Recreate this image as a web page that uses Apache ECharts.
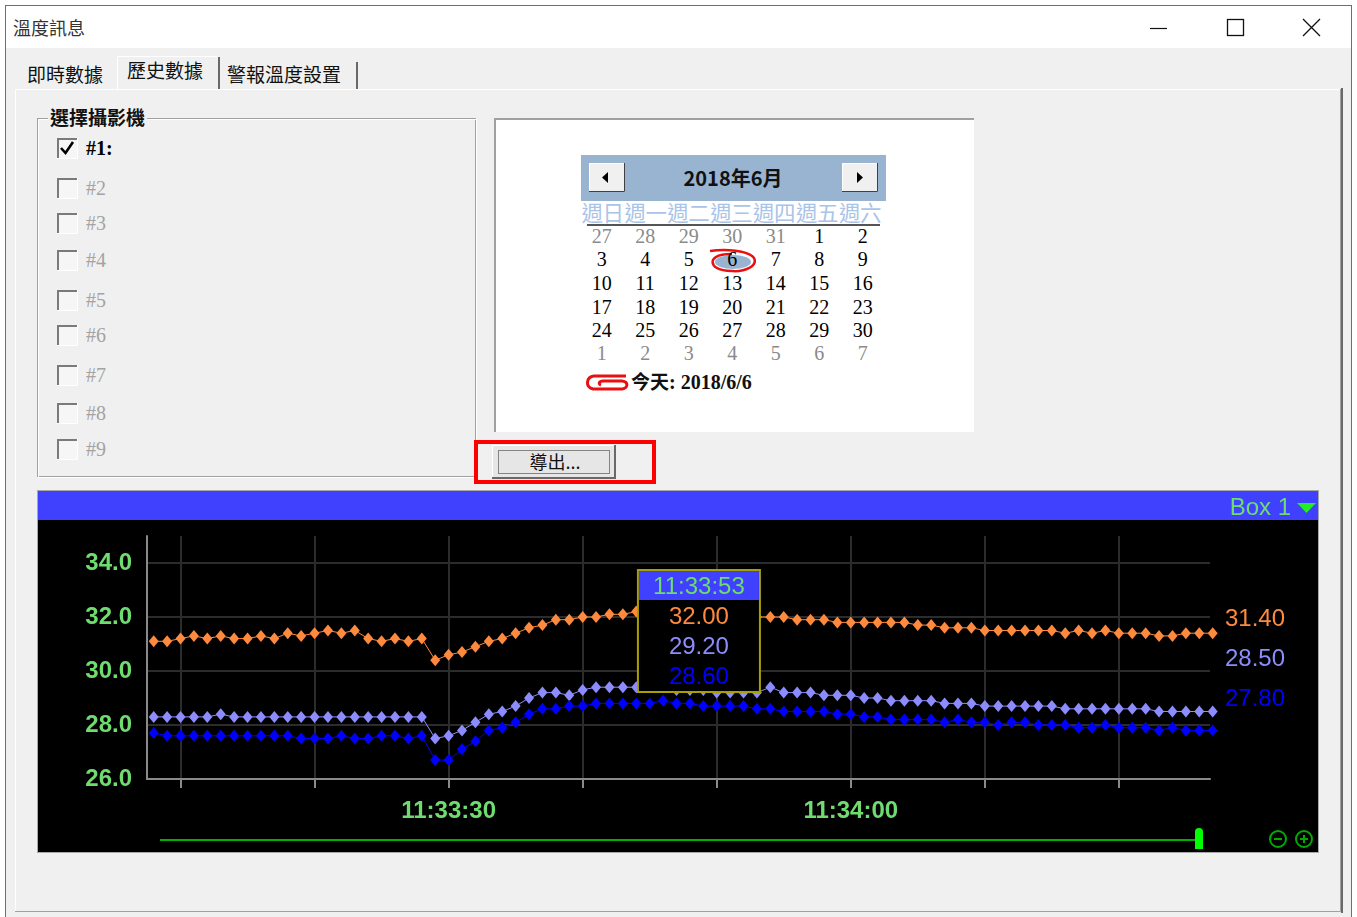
<!DOCTYPE html>
<html>
<head>
<meta charset="utf-8">
<title>溫度訊息</title>
<script src="https://cdn.jsdelivr.net/npm/echarts@6.0.0/dist/echarts.min.js"></script>
<style>
  html, body { margin: 0; padding: 0; }
  body { width: 1357px; height: 917px; position: relative; overflow: hidden; background: #fff;
         font-family: "Noto Sans CJK TC", "Noto Sans", sans-serif; color: #111; }
  .a { position: absolute; white-space: nowrap; }
  .cjk { font-size: 19px; line-height: 24px; height: 24px; }
  .ser { font-family: "Liberation Serif", "DejaVu Serif", serif; font-size: 20px; line-height: 24px; height: 24px; }
  .cell { width: 40px; text-align: center; }
  #frame { position: absolute; left: 0; top: 0; }
  #main { position: absolute; left: 38px; top: 491px; width: 1280px; height: 361px; }
</style>
</head>
<body>
<svg id="frame" width="1357" height="917">
  <!-- window -->
  <rect x="5.5" y="5.5" width="1346" height="920" fill="#f0f0f0" stroke="#2a7fd4"/>
  <rect x="6" y="6" width="1345" height="42" fill="#fff"/>
  <line x1="1150" y1="28.5" x2="1167" y2="28.5" stroke="#111" stroke-width="1.2"/>
  <rect x="1227.5" y="19.5" width="16" height="16" fill="none" stroke="#111" stroke-width="1.3"/>
  <path d="M1303 19 L1320 36 M1320 19 L1303 36" stroke="#111" stroke-width="1.3"/>
  <!-- tab panel -->
  <path d="M15.5 912 V89.5 H1340" stroke="#fff" fill="none"/>
  <path d="M1340.5 89 V911.5 H15" stroke="#a0a0a0" fill="none"/>
  <path d="M1342 88 V913" stroke="#696969" stroke-width="2"/>
  <path d="M117.5 89 V56.5 H218" stroke="#fff" fill="none"/>
  <path d="M219 57 V89" stroke="#696969" stroke-width="2"/>
  <path d="M357 62 V89" stroke="#696969" stroke-width="2"/>
  <!-- group box -->
  <rect x="37.5" y="118.5" width="438" height="358" fill="none" stroke="#a0a0a0"/>
  <rect x="38.5" y="119.5" width="438" height="358" fill="none" stroke="#fff"/>
  <g id="boxes"></g>
  <!-- calendar -->
  <rect x="494" y="118" width="480" height="314" fill="#fff"/>
  <path d="M495 432 V119 H974" stroke="#a0a0a0" stroke-width="2" fill="none"/>
  <rect x="581" y="155" width="305" height="46" fill="#99b4d1"/>
  <rect x="589" y="163" width="36" height="29" fill="#f0f0f0"/>
  <path d="M589.5 191 V163.5 H624" stroke="#fff" fill="none"/>
  <path d="M589 191.5 H624.5 V163" stroke="#404040" fill="none"/>
  <polygon points="602,177.5 608,172 608,183" fill="#000"/>
  <rect x="842" y="163" width="36" height="29" fill="#f0f0f0"/>
  <path d="M842.5 191 V163.5 H877" stroke="#fff" fill="none"/>
  <path d="M842 191.5 H877.5 V163" stroke="#404040" fill="none"/>
  <polygon points="863,177.5 857,172 857,183" fill="#000"/>
  <line x1="587" y1="225" x2="880" y2="225" stroke="#555" stroke-width="2"/>
  <ellipse cx="733" cy="262" rx="18" ry="7" fill="#99b4d1"/>
  <path d="M710 251 C725 249 748 250 754 258 C758 266 745 272 732 271 C718 271 711 266 713 260 C715 256 722 254 732 254"
        stroke="#e81010" stroke-width="2.5" fill="none"/>
  <path d="M626 376 L594 376 C586 377 585 387 593 389 L622 389 C628 388 629 382 622 381 L603 381 C599 381 598 384 601 385"
        stroke="#e81010" stroke-width="3" fill="none"/>
  <!-- export button -->
  <rect x="492" y="445" width="124" height="34" fill="#e6e6e6"/>
  <path d="M492.5 478 V445.5 H615" stroke="#fff" fill="none"/>
  <path d="M492 478 H615 V445" stroke="#696969" stroke-width="2" fill="none"/>
  <rect x="498.5" y="450.5" width="111" height="23" fill="none" stroke="#222" stroke-dasharray="1,1"/>
  <rect x="476" y="442" width="178" height="40" fill="none" stroke="#ff0000" stroke-width="4"/>
  <!-- chart frame -->
  <rect x="37.5" y="490.5" width="1281" height="362" fill="#000" stroke="#a8a8a8"/>
</svg>

<div class="a cjk" style="left:13px;top:15px;font-size:18px;color:#333">溫度訊息</div>
<div class="a cjk" style="left:27px;top:62px">即時數據</div>
<div class="a cjk" style="left:127px;top:58px">歷史數據</div>
<div class="a cjk" style="left:227px;top:62px">警報溫度設置</div>
<div class="a cjk" style="left:48px;top:105px;padding:0 2px;background:#f0f0f0;font-weight:bold">選擇攝影機</div>
<div id="camLabels"></div>
<div class="a cjk" style="left:633px;top:166px;width:200px;text-align:center;font-weight:bold;font-size:20px">2018年6月</div>
<div id="calendar"></div>
<div class="a cjk" style="left:631px;top:369px;font-weight:bold"><span>今天</span><span class="ser" style="font-weight:bold">: 2018/6/6</span></div>
<div class="a cjk" style="left:494px;top:449px;width:122px;text-align:center;font-size:18px">導出...</div>

<div id="main"></div>

<script>
// ---- chart data ----
var times = [
  '11:33:08','11:33:09','11:33:10','11:33:11','11:33:12','11:33:13','11:33:14','11:33:15','11:33:16','11:33:17',
  '11:33:18','11:33:19','11:33:20','11:33:21','11:33:22','11:33:23','11:33:24','11:33:25','11:33:26','11:33:27',
  '11:33:28','11:33:29','11:33:30','11:33:31','11:33:32','11:33:33','11:33:34','11:33:35','11:33:36','11:33:37',
  '11:33:38','11:33:39','11:33:40','11:33:41','11:33:42','11:33:43','11:33:44','11:33:45','11:33:46','11:33:47',
  '11:33:48','11:33:49','11:33:50','11:33:51','11:33:52','11:33:53','11:33:54','11:33:55','11:33:56','11:33:57',
  '11:33:58','11:33:59','11:34:00','11:34:01','11:34:02','11:34:03','11:34:04','11:34:05','11:34:06','11:34:07',
  '11:34:08','11:34:09','11:34:10','11:34:11','11:34:12','11:34:13','11:34:14','11:34:15','11:34:16','11:34:17',
  '11:34:18','11:34:19','11:34:20','11:34:21','11:34:22','11:34:23','11:34:24','11:34:25','11:34:26','11:34:27'
];
var tempA = [
  31.1, 31.1, 31.2, 31.3, 31.2, 31.3, 31.2, 31.2, 31.3, 31.2,
  31.4, 31.3, 31.4, 31.5, 31.4, 31.5, 31.2, 31.1, 31.2, 31.1,
  31.2, 30.4, 30.6, 30.7, 30.9, 31.1, 31.2, 31.4, 31.6, 31.7,
  31.9, 31.9, 32.0, 32.0, 32.1, 32.1, 32.2, 32.1, 32.2, 32.1,
  32.1, 32.0, 32.1, 32.0, 32.0, 32.0, 32.0, 32.0, 31.9, 31.9,
  31.9, 31.8, 31.8, 31.8, 31.8, 31.8, 31.8, 31.7, 31.7, 31.6,
  31.6, 31.6, 31.5, 31.5, 31.5, 31.5, 31.5, 31.5, 31.4, 31.5,
  31.4, 31.5, 31.4, 31.4, 31.4, 31.3, 31.3, 31.4, 31.4, 31.4
];
var tempB = [
  28.3, 28.3, 28.3, 28.3, 28.3, 28.4, 28.3, 28.3, 28.3, 28.3,
  28.3, 28.3, 28.3, 28.3, 28.3, 28.3, 28.3, 28.3, 28.3, 28.3,
  28.3, 27.5, 27.6, 27.8, 28.1, 28.4, 28.5, 28.7, 29.0, 29.2,
  29.2, 29.1, 29.3, 29.4, 29.4, 29.4, 29.4, 29.4, 29.4, 29.3,
  29.3, 29.3, 29.2, 29.2, 29.2, 29.2, 29.4, 29.2, 29.2, 29.2,
  29.1, 29.1, 29.1, 29.0, 29.0, 28.9, 28.9, 28.9, 28.9, 28.8,
  28.8, 28.8, 28.7, 28.7, 28.7, 28.7, 28.7, 28.7, 28.6, 28.6,
  28.6, 28.6, 28.6, 28.6, 28.6, 28.5, 28.5, 28.5, 28.5, 28.5
];
var tempC = [
  27.7, 27.6, 27.6, 27.6, 27.6, 27.6, 27.6, 27.6, 27.6, 27.6,
  27.6, 27.5, 27.5, 27.5, 27.6, 27.5, 27.5, 27.6, 27.6, 27.5,
  27.6, 26.7, 26.7, 27.1, 27.4, 27.8, 27.9, 28.1, 28.4, 28.6,
  28.6, 28.7, 28.7, 28.8, 28.8, 28.8, 28.8, 28.8, 28.9, 28.8,
  28.8, 28.7, 28.7, 28.7, 28.7, 28.6, 28.6, 28.5, 28.5, 28.5,
  28.5, 28.4, 28.4, 28.3, 28.3, 28.2, 28.2, 28.2, 28.2, 28.1,
  28.2, 28.1, 28.1, 28.0, 28.1, 28.1, 28.0, 28.0, 28.0, 27.9,
  27.9, 28.0, 27.9, 27.9, 27.9, 27.8, 27.9, 27.8, 27.8, 27.8
];
var seriesNames = ['溫度1', '溫度2', '溫度3'];
var seriesColors = ['#ff8a3d', '#8c8cff', '#0000ff'];
var xTickTimes = ['11:33:10', '11:33:20', '11:33:30', '11:33:40', '11:33:50', '11:34:00', '11:34:10', '11:34:20'];
var xLabelTimes = ['11:33:30', '11:34:00'];
var yTicks = [26, 28, 30, 32, 34];
var hoverIndex = 45;

// ---- dialog chrome ----
var camNames = ['#1:', '#2', '#3', '#4', '#5', '#6', '#7', '#8', '#9'];
var camY = [148, 188, 223, 260, 300, 335, 375, 413, 449];
var boxSvg = '', camHtml = '';
camNames.forEach(function (n, i) {
  var cy = camY[i];
  boxSvg += '<rect x="57" y="' + (cy - 10) + '" width="20" height="20" fill="#f6f6f6"/>' +
    '<path d="M58 ' + (cy + 10) + ' V' + (cy - 9) + ' H77" stroke="#7a7a7a" stroke-width="2" fill="none"/>' +
    '<path d="M57 ' + (cy + 10.5) + ' H77.5 V' + (cy - 10) + '" stroke="#fff" fill="none"/>';
  if (i === 0) boxSvg += '<path d="M61 ' + cy + ' L65.5 ' + (cy + 5) + ' L73 ' + (cy - 6) + '" stroke="#000" stroke-width="2.6" fill="none"/>';
  camHtml += '<div class="a ser" style="left:86px;top:' + (cy - 12) + 'px;' +
    (i === 0 ? 'font-weight:bold;color:#000' : 'color:#a3a3a3') + '">' + n + '</div>';
});
document.getElementById('boxes').innerHTML = boxSvg;
document.getElementById('camLabels').innerHTML = camHtml;

var weekDays = ['週日', '週一', '週二', '週三', '週四', '週五', '週六'];
var calRows = [
  [27, 28, 29, 30, 31, 1, 2], [3, 4, 5, 6, 7, 8, 9], [10, 11, 12, 13, 14, 15, 16],
  [17, 18, 19, 20, 21, 22, 23], [24, 25, 26, 27, 28, 29, 30], [1, 2, 3, 4, 5, 6, 7]
];
var rowY = [236, 259, 283, 306.5, 330, 353];
var calHtml = '';
weekDays.forEach(function (d, c) {
  calHtml += '<div class="a cjk" style="left:' + (581 + c * 42.9) + 'px;top:200px;width:43px;text-align:center;font-size:21.5px;letter-spacing:-0.5px;color:#a9c4e8">' + d + '</div>';
});
calRows.forEach(function (row, r) {
  row.forEach(function (d, c) {
    var grey = (r === 0 && c < 5) || r === 5;
    calHtml += '<div class="a ser cell" style="left:' + (581.7 + c * 43.5) + 'px;top:' + (rowY[r] - 12) + 'px;color:' +
      (grey ? '#8a8a8a' : '#000') + '">' + d + '</div>';
  });
});
document.getElementById('calendar').innerHTML = calHtml;

// ---- chart ----
var BASE = 11 * 3600 + 33 * 60;
function toSec(t) {
  var p = t.split(':');
  return (+p[0]) * 3600 + (+p[1]) * 60 + (+p[2]) - BASE;
}
function secToTime(s) {
  var v = Math.round(s + BASE);
  var h = Math.floor(v / 3600), m = Math.floor(v / 60) % 60, ss = v % 60;
  return h + ':' + (m < 10 ? '0' : '') + m + ':' + (ss < 10 ? '0' : '') + ss;
}
var green = '#6edc6e';
var FONT = '"Liberation Sans", Arial, sans-serif';
var seriesData = [tempA, tempB, tempC];

var myChart = echarts.init(document.getElementById('main'));
myChart.setOption({
  backgroundColor: '#000',
  animation: false,
  grid: { left: 109, right: 108, top: 45, bottom: 73, outerBoundsMode: 'none' },
  xAxis: {
    type: 'value',
    min: 7.5,
    max: 86.8,
    axisLine: { lineStyle: { color: '#8a8a8a', width: 2 } },
    axisTick: { show: true, length: 9, customValues: xTickTimes.map(toSec), lineStyle: { color: '#8a8a8a', width: 2 } },
    axisLabel: {
      customValues: xLabelTimes.map(toSec),
      formatter: function (v) { return secToTime(v); },
      color: green, fontSize: 24, fontWeight: 'bold', fontFamily: FONT, margin: 20
    },
    splitLine: { show: true, lineStyle: { color: '#2c2c2c', width: 2 } }
  },
  yAxis: {
    type: 'value',
    min: 26,
    max: 35,
    axisLine: { show: true, lineStyle: { color: '#8a8a8a', width: 2 } },
    axisTick: { show: false, customValues: yTicks },
    axisLabel: {
      customValues: yTicks,
      formatter: function (v) { return v.toFixed(1); },
      color: green, fontSize: 24, fontWeight: 'bold', fontFamily: FONT, margin: 15
    },
    splitLine: { show: true, lineStyle: { color: '#2c2c2c', width: 2 } }
  },
  series: seriesData.map(function (arr, k) {
    return {
      name: seriesNames[k],
      type: 'line',
      clip: false,
      data: times.map(function (t, i) { return [toSec(t), arr[i]]; }),
      symbol: 'diamond',
      symbolSize: [10, 12],
      itemStyle: { color: seriesColors[k] },
      lineStyle: { color: seriesColors[k], width: 1 }
    };
  })
});

// hover box anchored to the hovered sample
var hx = myChart.convertToPixel({ gridIndex: 0 }, [toSec(times[hoverIndex]), tempA[hoverIndex]])[0];
var boxW = 122, boxR = hx + 3, boxL = boxR - boxW, boxT = 79;
var txt = function (text, x, y, color, align, z) {
  return {
    type: 'text', z: z || 100,
    style: { text: text, x: x, y: y, fill: color, font: '24px ' + FONT, textAlign: align || 'center', textVerticalAlign: 'middle' }
  };
};
var last = times.length - 1;
var elements = [
  { type: 'rect', shape: { x: 0, y: 0, width: 1280, height: 29 }, style: { fill: '#4040ff' }, z: 100 },
  txt('Box 1', 1253, 17, green, 'right'),
  { type: 'polygon', shape: { points: [[1259, 12], [1278, 12], [1268.5, 22]] }, style: { fill: '#22ee22' }, z: 100 },
  { type: 'rect', shape: { x: boxL, y: boxT, width: boxW, height: 122 }, style: { fill: '#000', stroke: '#a8a000', lineWidth: 2 }, z: 100 },
  { type: 'rect', shape: { x: boxL + 1, y: boxT + 1, width: boxW - 2, height: 29 }, style: { fill: '#4040ff' }, z: 101 },
  txt(times[hoverIndex], boxL + boxW / 2, boxT + 17, green, 'center', 102),
  { type: 'line', shape: { x1: 122, y1: 349, x2: 1159, y2: 349 }, style: { stroke: '#00b000', lineWidth: 2 }, z: 100 },
  { type: 'rect', shape: { x: 1157, y: 337, width: 8, height: 21, r: [4, 4, 0, 0] }, style: { fill: '#00ff00' }, z: 101 },
  { type: 'circle', shape: { cx: 1240, cy: 348, r: 8 }, style: { fill: 'none', stroke: '#00aa00', lineWidth: 2 }, z: 100 },
  { type: 'line', shape: { x1: 1236, y1: 348, x2: 1244, y2: 348 }, style: { stroke: '#00aa00', lineWidth: 2 }, z: 100 },
  { type: 'circle', shape: { cx: 1266, cy: 348, r: 8 }, style: { fill: 'none', stroke: '#00aa00', lineWidth: 2 }, z: 100 },
  { type: 'line', shape: { x1: 1262, y1: 348, x2: 1270, y2: 348 }, style: { stroke: '#00aa00', lineWidth: 2 }, z: 100 },
  { type: 'line', shape: { x1: 1266, y1: 344, x2: 1266, y2: 352 }, style: { stroke: '#00aa00', lineWidth: 2 }, z: 100 }
];
seriesData.forEach(function (arr, k) {
  elements.push(txt(arr[hoverIndex].toFixed(2), boxL + boxW / 2, boxT + 47 + k * 30, seriesColors[k], 'center', 102));
  elements.push(txt(arr[last].toFixed(2), 1187, 128 + k * 40, seriesColors[k], 'left'));
});
myChart.setOption({ graphic: elements });
</script>
</body>
</html>
